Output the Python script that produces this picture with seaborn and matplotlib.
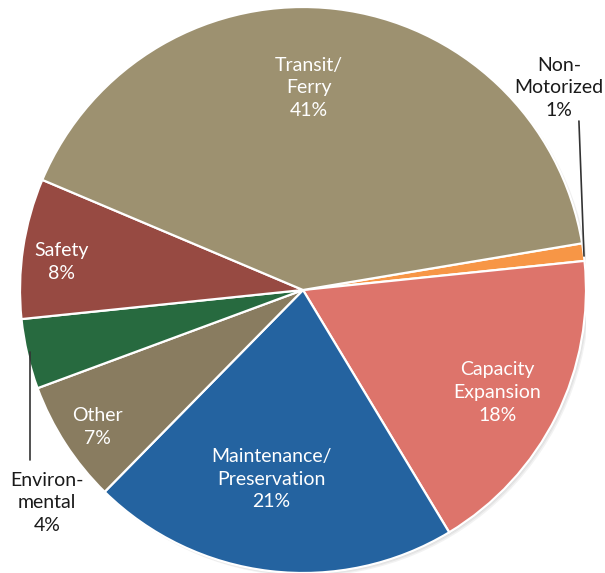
import matplotlib
matplotlib.use("Agg")
import matplotlib.pyplot as plt
import seaborn as sns

sns.set_theme(style="white")
plt.rcParams["font.family"] = ["Lato", "DejaVu Sans"]

# Funding shares by category, clockwise from the right edge
categories = ["Non-\nMotorized", "Capacity\nExpansion", "Maintenance/\nPreservation",
              "Other", "Environ-\nmental", "Safety", "Transit/\nFerry"]
values = [1, 18, 21, 7, 4, 8, 41]
colors = ["#F79646", "#DD746B", "#2463A0", "#897C60", "#276A3F", "#974A42", "#9D9170"]

# label anchor points (data units of the unit pie) and text colours
label_pos = [(0.905, 0.715), (0.686, -0.362), (-0.113, -0.668), (-0.728, -0.484),
             (-0.905, -0.752), (-0.852, 0.099), (0.021, 0.714)]
label_col = ["#1a1a1a", "white", "white", "white", "#1a1a1a", "white", "white"]

W, H = 605, 573
fig = plt.figure(figsize=(W / 100, H / 100), dpi=100)
fig.patch.set_facecolor("white")
cx, cy, r = 303, 290, 283
ax = fig.add_axes([(cx - r) / W, (H - cy - r) / H, 2 * r / W, 2 * r / H])

# soft drop shadow behind the pie
for k, a in enumerate([0.05, 0.05, 0.05]):
    off = 0.004 * (k + 1)
    ax.add_patch(plt.Circle((off, -off), 1.0, color="black", alpha=a, lw=0, zorder=0))

ax.pie(values, colors=colors, startangle=9.5, counterclock=False, radius=1.0,
       wedgeprops=dict(edgecolor="white", linewidth=1.6))

for name, v, (x, y), c in zip(categories, values, label_pos, label_col):
    ax.text(x, y, f"{name}\n{v}%", ha="center", va="center", fontsize=14,
            color=c, linespacing=1.4, zorder=5)

# leader lines for the labels placed outside the pie
ax.plot([0.975, 0.993], [0.597, 0.120], color="#333333", lw=1.2, zorder=4, clip_on=False)
ax.plot([-0.965, -0.965], [-0.219, -0.601], color="#333333", lw=1.2, zorder=4, clip_on=False)

ax.set_xlim(-1, 1)
ax.set_ylim(-1, 1)
ax.set_aspect("auto")
ax.axis("off")

fig.savefig("out.png", dpi=100, facecolor="white")
